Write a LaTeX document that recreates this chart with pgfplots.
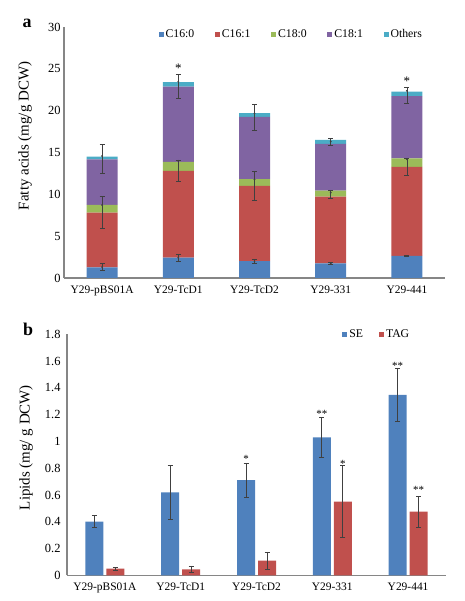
\documentclass[border=0pt]{standalone}
\usepackage{fontspec}
\setmainfont{Liberation Serif}
\usepackage{pgfplots}
\pgfplotsset{compat=1.18}
\definecolor{cA}{HTML}{4F81BD}
\definecolor{cB}{HTML}{C0504D}
\definecolor{cC}{HTML}{9BBB59}
\definecolor{cD}{HTML}{8064A2}
\definecolor{cE}{HTML}{4BACC6}
\definecolor{axgray}{HTML}{868686}
\definecolor{errgray}{HTML}{404040}
\pgfplotsset{
  excel/.style={
    scale only axis,
    axis x line*=bottom, axis y line*=left,
    axis line style={draw=axgray, line width=1.2bp},
    major tick length=0pt,
    xmin=-0.5, xmax=4.5, ymin=0,
    xtick={0,1,2,3,4},
    xticklabels={Y29-pBS01A,Y29-TcD1,Y29-TcD2,Y29-331,Y29-441},
    xticklabel style={font=\fontsize{11.5}{12}\selectfont, yshift=-4.5bp},
    yticklabel style={font=\fontsize{12.5}{13}\selectfont},
    ylabel style={font=\fontsize{15}{16}\selectfont, anchor=center},
    legend style={draw=none, fill=none, font=\fontsize{11.8}{12}\selectfont, legend columns=-1,
      /tikz/every even column/.append style={column sep=18.5bp}},
    legend image code/.code={\fill[#1] (0bp,-2.5bp) rectangle (5bp,2.5bp);},
  },
  errs/.style={
    error bars/.cd, y dir=both, y explicit,
    error bar style={errgray, line width=0.7bp},
    error mark options={errgray, rotate=90, mark size=2.5bp, line width=0.7bp},
  },
}
\begin{document}
\begin{tikzpicture}[x=1bp,y=1bp]
\useasboundingbox (0,0) rectangle (465,601);
\node[font=\bfseries\fontsize{18}{18}\selectfont] at (27,578) {a};
\node[font=\bfseries\fontsize{18}{18}\selectfont] at (28,272) {b};
% ---------------- panel a ----------------
\begin{axis}[excel,
  at={(64bp,323bp)}, anchor=south west,
  width=381bp, height=251bp,
  ymax=30, ytick={0,5,10,15,20,25,30},
  yticklabels={0,5,10,15,20,25,30},
  ybar stacked, bar width=31bp,
  ylabel={Fatty acids (mg/g DCW)},
  ylabel style={at={(axis description cs:-0.102,0.566)}},
  legend style={at={(axis description cs:0.24,0.972)}, anchor=west},
  legend image code/.code={\fill[#1] (0bp,-2.5bp) rectangle (5bp,2.5bp);},
]
\addplot[fill=cA, draw=none] coordinates {(0,1.27) (1,2.43) (2,2.03) (3,1.75) (4,2.63)};
\addplot[fill=cB, draw=none] coordinates {(0,6.53) (1,10.38) (2,8.99) (3,7.96) (4,10.66)};
\addplot[fill=cC, draw=none] coordinates {(0,0.95) (1,1.08) (2,0.80) (3,0.72) (4,1.00)};
\addplot[fill=cD, draw=none] coordinates {(0,5.42) (1,8.99) (2,7.44) (3,5.61) (4,7.44)};
\addplot[fill=cE, draw=none] coordinates {(0,0.35) (1,0.52) (2,0.44) (3,0.47) (4,0.55)};
\legend{C16:0,C16:1,C18:0,C18:1,Others}
\end{axis}
\begin{axis}[scale only axis, hide axis,
  at={(64bp,323bp)}, anchor=south west,
  width=381bp, height=251bp,
  xmin=-0.5, xmax=4.5, ymin=0, ymax=30]
\addplot[draw=none, mark=*, mark size=0.7bp, mark options={errgray}, errs] table[x=x, y=y, y error plus=ep, y error minus=em] {
x y ep em
0 1.30 0.45 0.42
1 2.43 0.44 0.40
2 2.00 0.23 0.25
3 1.75 0.06 0.06
4 2.63 0.12 0.08
};
\addplot[draw=none, mark=*, mark size=0.7bp, mark options={errgray}, errs] table[x=x, y=y, y error plus=ep, y error minus=em] {
x y ep em
0 8.72 1.00 2.78
1 14.00 0.10 2.50
2 11.79 0.99 2.47
3 10.20 0.31 0.68
4 14.20 0.10 1.90
};
\addplot[draw=none, mark=*, mark size=0.7bp, mark options={errgray}, errs] table[x=x, y=y, y error plus=ep, y error minus=em] {
x y ep em
0 14.58 1.35 2.08
1 23.45 0.92 1.98
2 19.67 1.12 1.99
3 16.30 0.39 0.41
4 22.38 0.40 1.51
};
\node[font=\fontsize{13}{13}\selectfont] at (axis cs:1,25.1) {*};
\node[font=\fontsize{13}{13}\selectfont] at (axis cs:4,23.5) {*};
\end{axis}
% ---------------- panel b ----------------
\begin{axis}[excel,
  at={(67bp,25.7bp)}, anchor=south west,
  width=379bp, height=241bp,
  ymax=1.8, ytick={0,0.2,0.4,0.6,0.8,1,1.2,1.4,1.6,1.8},
  yticklabels={0,0.2,0.4,0.6,0.8,1,1.2,1.4,1.6,1.8},
  yticklabel style={xshift=-3bp},
  ybar, bar width=18bp,
  ylabel={Lipids (mg/ g DCW)},
  ylabel style={at={(axis description cs:-0.108,0.53)}},
  legend style={at={(axis description cs:0.718,1.0)}, anchor=west,
    /tikz/every even column/.append style={column sep=14bp}},
  legend image code/.code={\fill[#1] (0bp,-2.5bp) rectangle (5bp,2.5bp);},
]
\addplot[fill=cA, draw=none, bar shift=-10.5bp, errs] coordinates {
 (0,0.40) +- (0,0.045)
 (1,0.62) +- (0,0.20)
 (2,0.71) +- (0,0.125)
 (3,1.03) +- (0,0.15)
 (4,1.347) +- (0,0.20)
};
\addplot[fill=cB, draw=none, bar shift=10.5bp, errs] coordinates {
 (0,0.05) +- (0,0.01)
 (1,0.045) +- (0,0.025)
 (2,0.11) +- (0,0.065)
 (3,0.55) +- (0,0.27)
 (4,0.475) +- (0,0.115)
};
\legend{SE,TAG}
\node[font=\fontsize{11}{11}\selectfont] at ([xshift=-10.5bp]axis cs:2,0.87) {*};
\node[font=\fontsize{11}{11}\selectfont] at ([xshift=-10.5bp]axis cs:3,1.205) {**};
\node[font=\fontsize{11}{11}\selectfont] at ([xshift=-10.5bp]axis cs:4,1.565) {**};
\node[font=\fontsize{11}{11}\selectfont] at ([xshift=10.5bp]axis cs:3,0.835) {*};
\node[font=\fontsize{11}{11}\selectfont] at ([xshift=10.5bp]axis cs:4,0.635) {**};
\end{axis}
\end{tikzpicture}
\end{document}
